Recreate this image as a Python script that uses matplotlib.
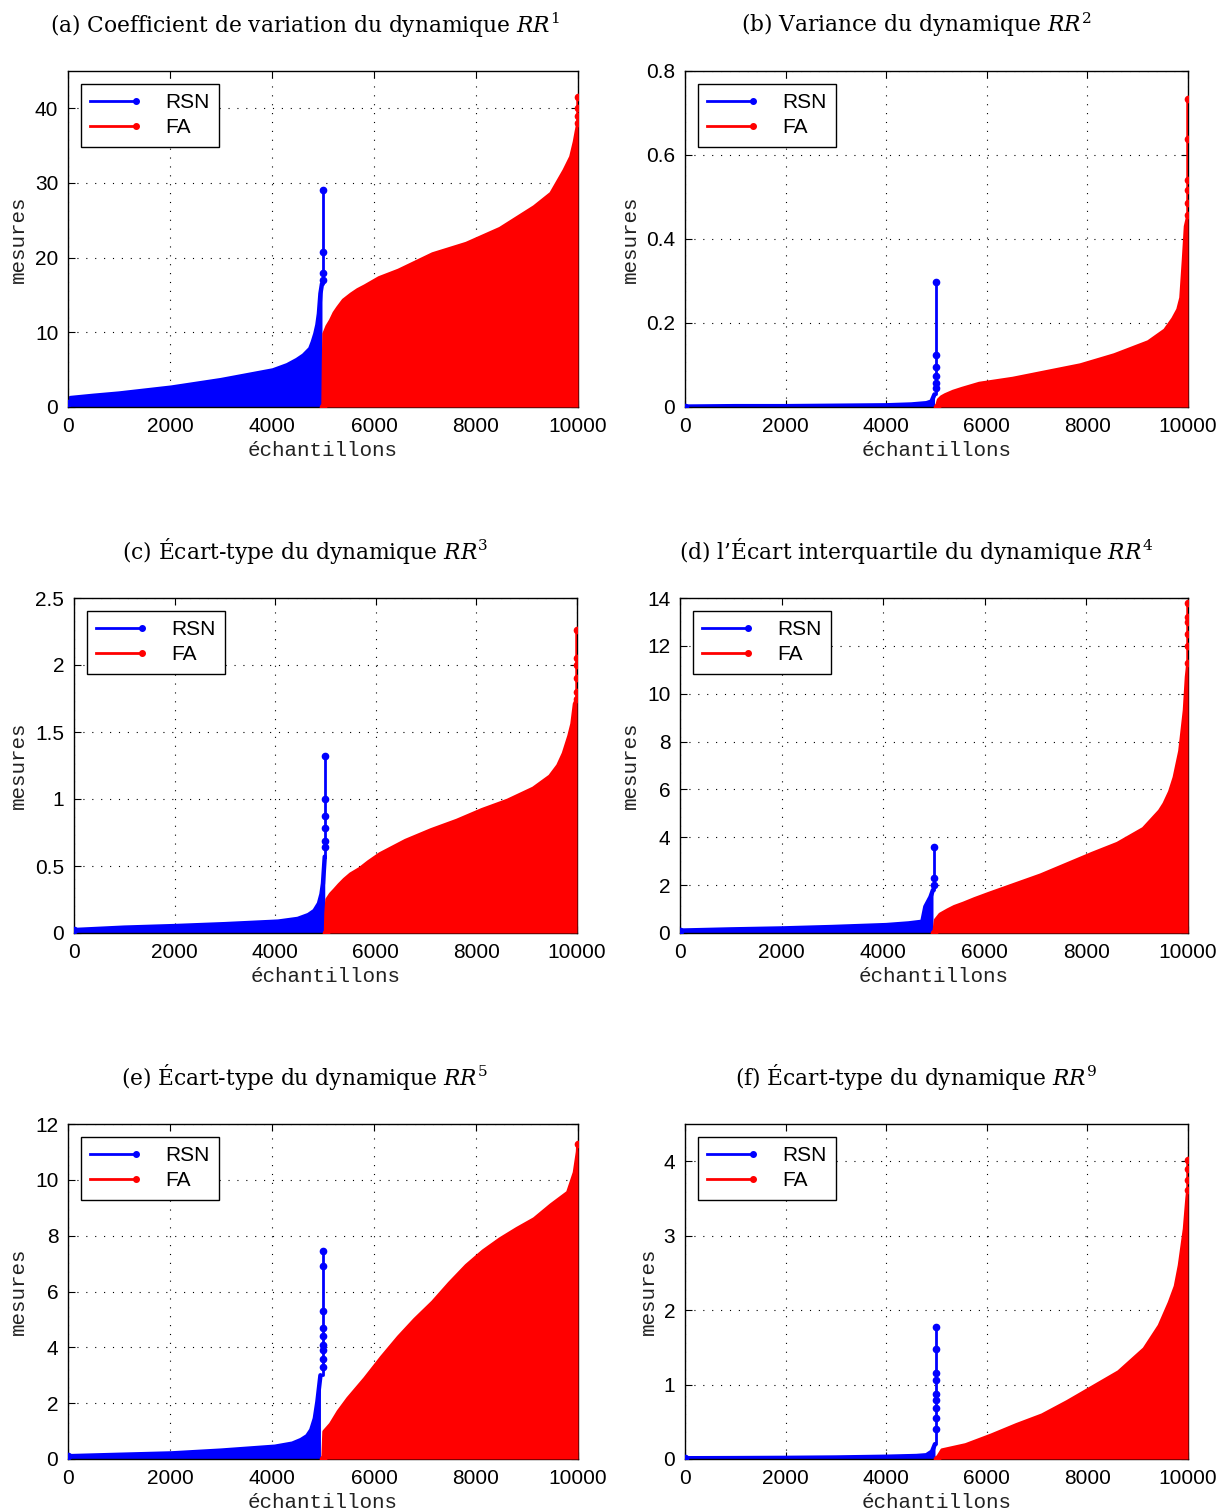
import numpy as np
import matplotlib
matplotlib.use("Agg")
import matplotlib.pyplot as plt
from matplotlib.lines import Line2D
from matplotlib.legend_handler import HandlerBase
from matplotlib.ticker import FuncFormatter

plt.rcParams['font.family'] = ['Liberation Sans', 'DejaVu Sans']
plt.rcParams['mathtext.fontset'] = 'custom'
plt.rcParams['mathtext.rm'] = 'DejaVu Serif'
plt.rcParams['mathtext.it'] = 'DejaVu Serif:italic'

N_TOTAL = 10000

# (a) coefficient de variation
rsn_x_a = [0, 50, 500, 1000, 2030, 3000, 4020, 4300, 4490, 4620, 4750, 4800, 4850, 4890, 4920, 4950, 4980]
rsn_y_a = [0.5, 1.2, 1.5, 1.8, 2.6, 3.6, 4.9, 5.6, 6.3, 6.9, 7.8, 8.7, 9.8, 11.0, 12.5, 15.2, 16.5]
rsn_pk_a = [17.0, 18.0, 20.7, 29.0]
fa_x_a = [5000, 5010, 5020, 5080, 5150, 5220, 5290, 5400, 5550, 5680, 5820, 6100, 6480, 7150, 7810,
          8470, 9140, 9470, 9730, 9860, 9930, 9970]
fa_y_a = [0, 6.0, 9.8, 10.8, 11.6, 12.6, 13.3, 14.3, 15.1, 15.7, 16.2, 17.3, 18.3, 20.5, 21.9,
          23.9, 26.8, 28.6, 31.7, 33.5, 35.5, 37.0]
fa_pk_a = [38.0, 39.0, 40.0, 41.5]

# (b) variance
rsn_x_b = [0, 1000, 2000, 3000, 4000, 4500, 4800, 4900, 4960]
rsn_y_b = [0.001, 0.002, 0.002, 0.003, 0.004, 0.006, 0.009, 0.013, 0.03]
rsn_pk_b = [0.045, 0.056, 0.075, 0.095, 0.125, 0.297]
fa_x_b = [5000, 5040, 5100, 5175, 5330, 5510, 5850, 6520, 7190, 7860, 8535, 9210, 9540, 9700, 9800,
          9860, 9910, 9950]
fa_y_b = [0, 0.017, 0.024, 0.029, 0.037, 0.044, 0.056, 0.068, 0.084, 0.1, 0.124, 0.155, 0.183, 0.21,
          0.232, 0.26, 0.35, 0.43]
fa_pk_b = [0.456, 0.485, 0.517, 0.54, 0.639, 0.733]

# (c) ecart-type RR3
rsn_x_c = [0, 1000, 2030, 3000, 4060, 4450, 4660, 4780, 4870, 4920, 4950, 4985]
rsn_y_c = [0.022, 0.04, 0.052, 0.066, 0.085, 0.105, 0.134, 0.165, 0.22, 0.29, 0.37, 0.57]
rsn_pk_c = [0.64, 0.69, 0.78, 0.87, 1.0, 1.32]
fa_x_c = [5000, 5010, 5030, 5100, 5175, 5270, 5375, 5500, 5680, 5850, 6080, 6590, 7100, 7610, 8110,
          8620, 9130, 9460, 9620, 9730, 9840, 9900, 9950]
fa_y_c = [0, 0.15, 0.25, 0.29, 0.32, 0.36, 0.40, 0.44, 0.48, 0.53, 0.59, 0.69, 0.77, 0.84, 0.92,
          0.99, 1.08, 1.17, 1.25, 1.34, 1.47, 1.56, 1.71]
fa_pk_c = [1.75, 1.8, 1.9, 2.0, 2.05, 2.26]

# (d) ecart interquartile
rsn_x_d = [0, 1000, 2000, 3000, 4060, 4500, 4770, 4830, 4880, 4930, 4980]
rsn_y_d = [0.1, 0.15, 0.19, 0.25, 0.33, 0.4, 0.47, 1.1, 1.3, 1.5, 1.8]
rsn_pk_d = [2.0, 2.3, 3.6]
fa_x_d = [5000, 5030, 5120, 5270, 5400, 5580, 5800, 6080, 7100, 8110, 8610, 9120, 9440, 9530, 9640,
          9730, 9840, 9930, 9970]
fa_y_d = [0, 0.54, 0.78, 0.96, 1.1, 1.24, 1.43, 1.65, 2.42, 3.32, 3.74, 4.36, 5.1, 5.4, 5.9,
          6.5, 7.6, 9.3, 10.7]
fa_pk_d = [11.3, 12.0, 12.5, 13.0, 13.2, 13.8]

# (e) ecart-type RR5
rsn_x_e = [0, 1000, 2030, 3000, 4060, 4400, 4570, 4690, 4770, 4840, 4890, 4950]
rsn_y_e = [0.1, 0.15, 0.2, 0.3, 0.44, 0.55, 0.68, 0.82, 1.04, 1.45, 2.05, 3.0]
rsn_pk_e = [3.3, 3.6, 3.9, 4.1, 4.4, 4.7, 5.3, 6.9, 7.45]
fa_x_e = [5000, 5020, 5150, 5300, 5490, 5820, 6150, 6480, 6800, 7150, 7480, 7810, 8140, 8470, 8800,
          9140, 9470, 9800, 9930, 9990]
fa_y_e = [0, 0.98, 1.25, 1.7, 2.17, 2.88, 3.65, 4.37, 5.0, 5.62, 6.3, 6.93, 7.45, 7.88, 8.25,
          8.6, 9.1, 9.55, 10.26, 11.0]
fa_pk_e = [11.3]

# (f) ecart-type RR9
rsn_x_f = [0, 1000, 2000, 3000, 4000, 4600, 4800, 4910, 4970]
rsn_y_f = [0.01, 0.012, 0.015, 0.02, 0.03, 0.04, 0.05, 0.1, 0.2]
rsn_pk_f = [0.4, 0.55, 0.68, 0.79, 0.87, 1.06, 1.16, 1.48, 1.77]
fa_x_f = [5000, 5110, 5580, 6090, 6590, 7100, 7600, 8110, 8620, 9130, 9430, 9630, 9750, 9830, 9930, 9980]
fa_y_f = [0, 0.12, 0.19, 0.32, 0.46, 0.59, 0.77, 0.97, 1.17, 1.48, 1.79, 2.1, 2.32, 2.6, 3.09, 3.5]
fa_pk_f = [3.62, 3.75, 3.9, 4.02]

titles = [
    "(a) Coefficient de variation du dynamique $RR^1$",
    "(b) Variance du dynamique $RR^2$",
    "(c) Écart-type du dynamique $RR^3$",
    "(d) l’Écart interquartile du dynamique $RR^4$",
    "(e) Écart-type du dynamique $RR^5$",
    "(f) Écart-type du dynamique $RR^9$",
]
y_limits = [45, 0.8, 2.5, 14, 12, 4.5]
y_ticks = [[0, 10, 20, 30, 40], [0, 0.2, 0.4, 0.6, 0.8], [0, 0.5, 1, 1.5, 2, 2.5],
           list(range(0, 15, 2)), list(range(0, 13, 2)), [0, 1, 2, 3, 4]]
x_ticks = [0, 2000, 4000, 6000, 8000, 10000]

panels = [
    (rsn_x_a, rsn_y_a, rsn_pk_a, fa_x_a, fa_y_a, fa_pk_a),
    (rsn_x_b, rsn_y_b, rsn_pk_b, fa_x_b, fa_y_b, fa_pk_b),
    (rsn_x_c, rsn_y_c, rsn_pk_c, fa_x_c, fa_y_c, fa_pk_c),
    (rsn_x_d, rsn_y_d, rsn_pk_d, fa_x_d, fa_y_d, fa_pk_d),
    (rsn_x_e, rsn_y_e, rsn_pk_e, fa_x_e, fa_y_e, fa_pk_e),
    (rsn_x_f, rsn_y_f, rsn_pk_f, fa_x_f, fa_y_f, fa_pk_f),
]

# axes boxes in pixels: left, top, right, bottom
W, H = 1221, 1512
boxes = [(68, 71, 578, 407), (685, 71, 1188, 407),
         (74, 598, 577, 933), (680, 598, 1188, 933),
         (68, 1124, 578, 1459), (685, 1124, 1188, 1459)]
ylabel_px = [18, 630, 18, 630, 18, 648]
title_px = [(305, 25), (916, 25), (305, 551), (916, 551), (305, 1077), (916, 1077)]


class EndDotHandler(HandlerBase):
    # legend line with the marker drawn at its right end
    def create_artists(self, legend, orig, xdescent, ydescent, width, height, fontsize, trans):
        y = height / 2 - ydescent
        line = Line2D([-xdescent, width - xdescent], [y, y], color=orig.get_color(), lw=2)
        dot = Line2D([width - xdescent], [y], ls='none', marker='o', ms=4, color=orig.get_color())
        line.set_transform(trans)
        dot.set_transform(trans)
        return [line, dot]


def draw_series(ax, xs, ys, peaks, spike_x, color, z, lw):
    px = list(xs) + [spike_x] * len(peaks)
    py = list(ys) + list(peaks)
    ax.fill_between(px, py, 0, color=color, lw=0, zorder=z)
    ax.plot(px, py, color=color, lw=lw, zorder=z, solid_joinstyle='round', solid_capstyle='round')
    return px, py


fmt = FuncFormatter(lambda v, p: '%g' % v)
fig = plt.figure(figsize=(W / 100, H / 100), dpi=100)

for i, (rx, ry, rpk, fx, fy, fpk) in enumerate(panels):
    l, t, r, b = boxes[i]
    ax = fig.add_axes([l / W, 1 - b / H, (r - l) / W, (b - t) / H])

    # RSN under, FA over, RSN spike on top
    draw_series(ax, rx, ry, [], 0, 'b', 2, 3.2)
    fx_all, fy_all = draw_series(ax, fx, fy, fpk, N_TOTAL, 'r', 3, 2.5)
    ax.plot([fx_all[0]] + [N_TOTAL] * len(fpk), [fy_all[0]] + list(fpk), ls='none',
            marker='o', ms=4.5, color='r', zorder=3)
    spike_x = 4995
    ax.plot([rx[-1], spike_x] + [spike_x] * len(rpk), [ry[-1], ry[-1]] + list(rpk),
            color='b', lw=2, zorder=4)
    ax.plot([rx[0]] + [spike_x] * len(rpk), [ry[0]] + list(rpk), ls='none',
            marker='o', ms=4.5, color='b', zorder=4)

    ax.set_xlim(0, N_TOTAL)
    ax.set_ylim(0, y_limits[i])
    ax.set_xticks(x_ticks)
    ax.set_yticks(y_ticks[i])
    ax.yaxis.set_major_formatter(fmt)
    ax.xaxis.set_major_formatter(fmt)
    ax.tick_params(direction='in', length=5, width=0.8, top=True, right=True,
                   labelsize=15, pad=7)
    for s in ax.spines.values():
        s.set_linewidth(1)
    ax.grid(True, color='k', lw=0.8, ls=(0, (1, 7)))
    ax.set_axisbelow(True)

    ax.set_xlabel('échantillons', family='Liberation Mono', fontsize=15, color='#222', va='center')
    ax.xaxis.set_label_coords(0.5, -43 / (b - t))
    ax.set_ylabel('mesures', family='Liberation Mono', fontsize=15, color='#222', va='center')
    ax.yaxis.set_label_coords((ylabel_px[i] - l) / (r - l), 0.5)

    h_rsn = Line2D([], [], color='b', marker='o')
    h_fa = Line2D([], [], color='r', marker='o')
    ax.legend([h_rsn, h_fa], ['RSN', 'FA'], loc='upper left', fontsize=15,
              handler_map={Line2D: EndDotHandler()}, fancybox=False, framealpha=1,
              edgecolor='k', borderaxespad=0.6, handlelength=2.2, handletextpad=1.4,
              labelspacing=0.3, borderpad=0.45)
    ax.get_legend().get_frame().set_linewidth(1)

    tx, ty = title_px[i]
    fig.text(tx / W, 1 - ty / H, titles[i], family='DejaVu Serif', fontsize=15.7,
             ha='center', va='center')

fig.savefig('out.png', dpi=100)
